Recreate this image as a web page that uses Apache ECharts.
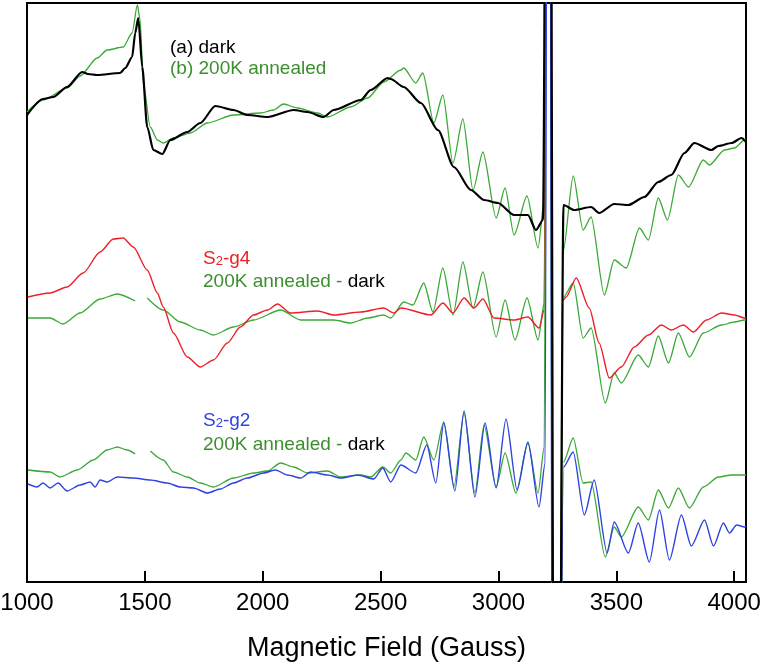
<!DOCTYPE html>
<html><head><meta charset="utf-8">
<script src="https://cdn.jsdelivr.net/npm/echarts@6/dist/echarts.min.js"></script>
<style>html,body{margin:0;padding:0;background:#fff}#c{width:763px;height:668px}</style>
</head><body><div id="c"></div>
<script>
// x = magnetic field (Gauss), y = arbitrary EPR intensity (offset stack)
const xTicks = [1000, 1500, 2000, 2500, 3000, 3500, 4000];
const darkA = [[1000,467],[1068,483],[1111,485],[1170,495],[1234,510],[1259,508],[1298,507],[1395,509],[1417,514],[1446,525],[1459,549],[1472,564],[1489,515],[1510,455],[1536,432],[1574,428],[1608,442],[1680,450],[1735,459],[1799,476],[1876,472],[1935,467],[2020,465],[2131,472],[2190,470],[2258,465],[2301,472],[2416,482],[2458,492],[2530,504],[2543,503],[2598,495],[2671,479],[2743,452],[2811,415],[2883,392],[2939,382],[2998,379],[3066,367],[3125,367],[3159,352],[3189,362],[3213,1500],[3244,-1000],[3276,377],[3321,372],[3393,375],[3427,369],[3491,378],[3551,377],[3619,385],[3678,400],[3733,407],[3789,429],[3831,439],[3903,432],[3933,436],[3989,439],[4031,444],[4050,440]];
const annealedB = [[1000,470],[1068,482],[1170,494],[1225,506],[1298,524],[1340,532],[1408,535],[1446,549],[1468,577],[1480,562],[1493,499],[1523,455],[1553,442],[1578,439],[1621,444],[1693,449],[1765,459],[1876,467],[1990,469],[2046,472],[2088,478],[2148,474],[2233,469],[2275,465],[2373,475],[2445,484],[2513,500],[2586,512],[2598,514],[2649,499],[2679,509],[2726,459],[2764,487],[2807,419],[2849,463],[2892,392],[2934,430],[2990,364],[3028,394],[3066,347],[3121,386],[3168,334],[3194,382],[3212,1500],[3238,-1000],[3274,330],[3317,406],[3359,352],[3393,365],[3449,287],[3491,322],[3542,314],[3598,354],[3636,342],[3678,384],[3717,362],[3763,407],[3806,395],[3869,422],[3895,417],[3959,432],[4001,434],[4044,442],[4050,442]];
const s2g4 = [[1004,285],[1098,289],[1170,295],[1238,309],[1310,330],[1366,343],[1408,344],[1451,335],[1510,312],[1553,289],[1578,275],[1621,249],[1680,225],[1735,215],[1791,222],[1850,239],[1905,255],[1961,267],[2020,272],[2063,278],[2118,269],[2233,271],[2301,267],[2416,270],[2513,274],[2556,269],[2586,274],[2713,267],[2764,279],[2807,269],[2854,284],[2896,274],[2934,283],[2981,264],[3066,262],[3125,265],[3172,254],[3194,272],[3212,1500],[3240,-1000],[3274,282],[3287,285],[3330,304],[3385,274],[3427,239],[3470,204],[3521,215],[3576,235],[3636,247],[3691,257],[3733,252],[3784,257],[3827,250],[3882,262],[3946,269],[4001,267],[4044,264],[4050,265]];
const diffG4 = [[1004,264],[1098,264],[1153,258],[1225,269],[1310,283],[1383,288],[1459,281],[1480,'-'],[1510,284],[1578,272],[1650,260],[1735,252],[1791,247],[1876,255],[1961,262],[2076,272],[2161,262],[2301,262],[2373,259],[2445,264],[2513,267],[2543,264],[2598,280],[2637,277],[2683,299],[2722,270],[2764,314],[2807,267],[2849,320],[2892,274],[2934,310],[2990,245],[3028,282],[3070,242],[3121,284],[3168,242],[3194,279],[3212,1500],[3238,-1000],[3276,285],[3317,299],[3359,244],[3393,254],[3453,179],[3491,209],[3521,199],[3593,227],[3636,215],[3678,246],[3721,219],[3763,249],[3810,225],[3869,249],[3946,257],[4001,260],[4044,262],[4050,262]];
const s2g2 = [[1004,98],[1043,95],[1068,99],[1098,94],[1132,99],[1170,91],[1225,97],[1268,100],[1289,95],[1310,102],[1340,100],[1383,105],[1451,104],[1523,102],[1595,99],[1650,95],[1706,94],[1765,89],[1820,93],[1876,99],[1935,104],[2003,109],[2054,112],[2105,107],[2161,104],[2203,110],[2275,107],[2331,104],[2403,107],[2471,103],[2509,114],[2543,100],[2586,117],[2649,109],[2696,137],[2734,99],[2768,159],[2815,91],[2854,171],[2900,85],[2943,159],[2990,94],[3032,163],[3079,92],[3125,140],[3172,75],[3198,119],[3212,1500],[3236,-1000],[3276,115],[3317,130],[3364,67],[3406,102],[3461,29],[3491,60],[3551,29],[3593,59],[3640,20],[3683,72],[3725,22],[3776,67],[3818,36],[3874,62],[3912,36],[3954,59],[3980,49],[4010,57],[4044,55],[4050,56]];
const diffG2 = [[1004,112],[1098,110],[1140,105],[1213,112],[1281,122],[1340,132],[1383,135],[1425,132],[1459,128],[1480,'-'],[1523,131],[1578,122],[1621,110],[1680,105],[1735,99],[1791,95],[1876,104],[1961,109],[2020,111],[2076,119],[2131,115],[2190,109],[2275,111],[2331,105],[2416,107],[2458,105],[2509,115],[2543,109],[2586,122],[2607,129],[2649,122],[2683,145],[2726,122],[2768,160],[2811,95],[2854,169],[2900,89],[2939,157],[2990,95],[3028,129],[3074,89],[3125,139],[3168,89],[3194,135],[3212,1500],[3238,-1000],[3276,120],[3317,144],[3359,99],[3393,100],[3453,25],[3491,55],[3521,45],[3593,75],[3636,62],[3678,92],[3721,74],[3763,94],[3810,74],[3869,95],[3933,105],[3989,107],[4044,107],[4050,107]];

const GREEN = '#3aa935', GREEN_TXT = '#3c8f2e', RED = '#ec2129', BLUE = '#3043e0';
const FONT = '"Liberation Sans", Arial, Helvetica, sans-serif';

const chart = echarts.init(document.getElementById('c'), null, {renderer: 'canvas'});
function ln(name, data, color, w, z) {
  return {name, type: 'line', data, showSymbol: false, symbol: 'none', smooth: 0.25, smoothMonotone: 'x',
    clip: true, connectNulls: false, lineStyle: {color, width: w}, itemStyle: {color}, animation: false, z: z || 2};
}
const FS = 19;
const rich = {
  g: {fontFamily: FONT, fontSize: FS, fill: GREEN_TXT, color: GREEN_TXT},
  k: {fontFamily: FONT, fontSize: FS, fill: '#000', color: '#000'},
  r: {fontFamily: FONT, fontSize: FS, fill: RED, color: RED},
  rs: {fontFamily: FONT, fontSize: 13, fill: RED, color: RED, padding: [6, 0, 0, 0]},
  b: {fontFamily: FONT, fontSize: FS, fill: BLUE, color: BLUE},
  bs: {fontFamily: FONT, fontSize: 13, fill: BLUE, color: BLUE, padding: [6, 0, 0, 0]}
};
function txt(x, y, text) {
  return {type: 'text', x, y, z: 10, style: {text, rich, font: FS + 'px ' + FONT, fill: '#000'}};
}
chart.setOption({
  animation: false,
  grid: {left: 27, right: 17, top: 3, bottom: 86, containLabel: false, outerBoundsMode: 'none',
    show: true, borderColor: '#000', borderWidth: 2, backgroundColor: 'transparent'},
  xAxis: {type: 'value', min: 1000, max: 4050, interval: 500,
    name: 'Magnetic Field (Gauss)', nameLocation: 'middle', nameGap: 53,
    nameTextStyle: {fontFamily: FONT, fontSize: 27, color: '#000'},
    axisLine: {show: true, lineStyle: {color: '#000', width: 2}},
    axisTick: {show: true, inside: true, length: 11, lineStyle: {color: '#000', width: 2}},
    axisLabel: {fontFamily: FONT, fontSize: 24, color: '#000', margin: 9, hideOverlap: false,
      formatter: v => xTicks.includes(v) ? String(v) : ''},
    splitLine: {show: false}},
  yAxis: {type: 'value', min: 0, max: 579, show: true,
    axisLine: {show: true, lineStyle: {color: '#000', width: 2}}, axisTick: {show: false},
    axisLabel: {show: false}, splitLine: {show: false}},
  series: [
    ln('(b) 200K annealed', annealedB, GREEN, 1.3),
    ln('200K annealed - dark (g4)', diffG4, GREEN, 1.3),
    ln('S2-g4', s2g4, RED, 1.4),
    ln('200K annealed - dark (g2)', diffG2, GREEN, 1.3),
    ln('S2-g2', s2g2, BLUE, 1.4),
    ln('(a) dark', darkA, '#000', 2.2, 3)
  ],
  graphic: [
    txt(170, 38, '{k|(a) dark}'),
    txt(170, 59, '{g|(b) 200K annealed}'),
    txt(203, 249, '{r|S}{rs|2}{r|-g4}'),
    txt(203, 272, '{g|200K annealed - }{k|dark}'),
    txt(203, 411, '{b|S}{bs|2}{b|-g2}'),
    txt(203, 435, '{g|200K annealed - }{k|dark}')
  ]
});
</script></body></html>
